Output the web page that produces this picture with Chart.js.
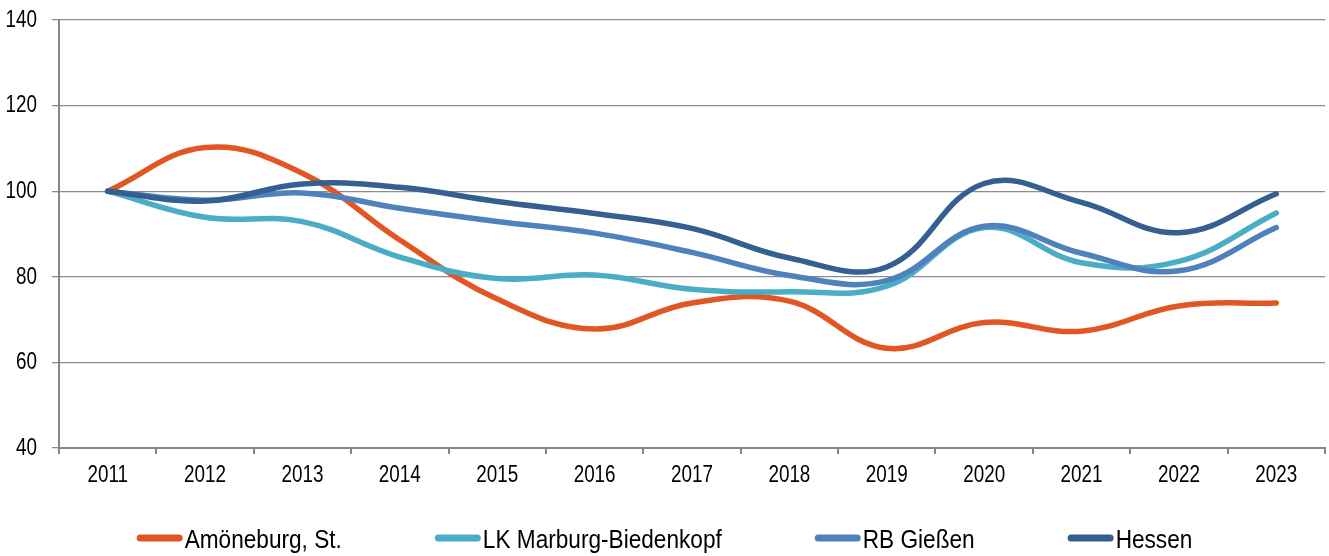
<!DOCTYPE html>
<html>
<head>
<meta charset="utf-8">
<script src="https://cdn.jsdelivr.net/npm/chart.js@4.4.0/dist/chart.umd.min.js"></script>
<style>
  html, body { margin: 0; padding: 0; background: #ffffff; }
  #wrap { width: 1329px; height: 556px; }
</style>
</head>
<body>
<div id="wrap"><canvas id="c" width="1329" height="556"></canvas></div>
<script>
// Index values (2011 = 100)
const years = ['2011', '2012', '2013', '2014', '2015', '2016', '2017', '2018', '2019', '2020', '2021', '2022', '2023'];
const amoeneburg = [100, 110.2, 104.2, 88.6, 74.8, 67.8, 73.9, 74.3, 63.3, 69.3, 67.3, 73.2, 73.9];
const lkMarburg  = [100, 93.9, 92.9, 84.6, 79.6, 80.4, 77.1, 76.5, 77.8, 91.5, 83.3, 83.6, 94.9];
const rbGiessen  = [100, 97.9, 99.6, 96.0, 92.9, 90.2, 85.7, 80.3, 79.1, 91.8, 85.5, 81.4, 91.5];
const hessen     = [100, 97.7, 101.7, 100.9, 97.6, 94.8, 91.3, 84.4, 82.3, 101.8, 97.4, 90.3, 99.4];
const seriesNames = ['Amöneburg, St.', 'LK Marburg-Biedenkopf', 'RB Gießen', 'Hessen'];
const seriesColors = ['#E05723', '#4BACC6', '#4F81BD', '#335F91'];
const yMin = 40, yMax = 140, yStep = 20;

const FONT_FAMILY = '"Liberation Sans", Arial, sans-serif';
const AXIS_GRAY = '#868686';

// Condensed text: regular sans face squeezed horizontally
function narrowText(ctx, text, x, y, size, squeeze, align, baseline) {
  ctx.save();
  ctx.font = size + 'px ' + FONT_FAMILY;
  ctx.fillStyle = '#000000';
  ctx.textAlign = align;
  ctx.textBaseline = baseline;
  ctx.translate(x, y);
  ctx.scale(squeeze, 1);
  ctx.fillText(text, 0, 0);
  ctx.restore();
}

// Tick labels for both axes, placed at the scales' own tick positions
const axisLabels = {
  id: 'axisLabels',
  afterDraw(chart) {
    const ctx = chart.ctx;
    const ys = chart.scales.y;
    ys.ticks.forEach((t, i) => {
      const py = ys.getPixelForTick(i);
      narrowText(ctx, String(t.value), ys.right - 22, py + 0.5, 23, 0.82, 'right', 'middle');
    });
    const xs = chart.scales.x;
    xs.ticks.forEach((t, i) => {
      const px = xs.getPixelForTick(i);
      narrowText(ctx, xs.getLabelForValue(t.value), px, xs.top + 28, 23, 0.82, 'center', 'middle');
    });
  }
};

// Legend underneath the plot: short line sample followed directly by the label
const bottomLegend = {
  id: 'bottomLegend',
  afterDraw(chart) {
    const ctx = chart.ctx;
    const fontSize = 26, squeeze = 0.87;
    const lineLen = 46, textGap = 2, itemGap = 93;
    const lineY = 538, textBaseY = 548;
    ctx.save();
    ctx.font = fontSize + 'px ' + FONT_FAMILY;
    const items = chart.data.datasets.map(ds => ({
      text: ds.label,
      color: ds.borderColor,
      w: lineLen + textGap + ctx.measureText(ds.label).width * squeeze
    }));
    ctx.restore();
    const total = items.reduce((s, it) => s + it.w, 0) + itemGap * (items.length - 1);
    let x = (chart.width - total) / 2;
    items.forEach(it => {
      ctx.save();
      ctx.strokeStyle = it.color;
      ctx.lineWidth = 7;
      ctx.lineCap = 'round';
      ctx.beginPath();
      ctx.moveTo(x + 3.5, lineY);
      ctx.lineTo(x + lineLen - 3.5, lineY);
      ctx.stroke();
      ctx.restore();
      narrowText(ctx, it.text, x + lineLen + textGap, textBaseY, fontSize, squeeze, 'left', 'alphabetic');
      x += it.w + itemGap;
    });
  }
};

const seriesData = [amoeneburg, lkMarburg, rbGiessen, hessen];
const datasets = seriesNames.map((name, i) => ({
  label: name,
  data: seriesData[i],
  borderColor: seriesColors[i],
  backgroundColor: seriesColors[i],
  borderWidth: 5.5,
  borderCapStyle: 'round',
  borderJoinStyle: 'round',
  pointRadius: 0,
  pointHoverRadius: 0,
  tension: 0.4,
  fill: false,
  // later series are painted above earlier ones
  order: seriesNames.length - i
}));

new Chart(document.getElementById('c'), {
  type: 'line',
  data: { labels: years, datasets: datasets },
  options: {
    responsive: false,
    animation: false,
    events: [],
    layout: { padding: { top: 20, right: 4, bottom: 0, left: 0 } },
    plugins: {
      legend: { display: false },
      tooltip: { enabled: false },
      title: { display: false }
    },
    scales: {
      x: {
        type: 'category',
        offset: true,
        grid: {
          display: true,
          offset: true,
          drawOnChartArea: false,
          drawTicks: true,
          tickLength: 6,
          color: AXIS_GRAY,
          lineWidth: 2
        },
        border: { display: true, color: AXIS_GRAY, width: 2 },
        ticks: { display: false, autoSkip: false },
        afterFit(scale) { scale.height = 108; }
      },
      y: {
        min: yMin,
        max: yMax,
        grid: {
          color: '#8C8C8C',
          lineWidth: 1.3,
          drawTicks: true,
          tickLength: 7
        },
        border: { display: true, color: AXIS_GRAY, width: 2 },
        ticks: { display: false, stepSize: yStep },
        afterFit(scale) { scale.width = 59; }
      }
    }
  },
  plugins: [axisLabels, bottomLegend]
});
</script>
</body>
</html>
